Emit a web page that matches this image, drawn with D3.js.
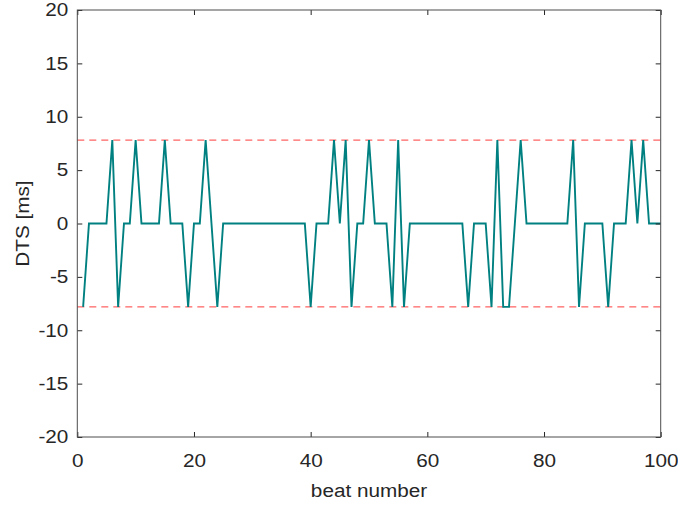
<!DOCTYPE html>
<html>
<head>
<meta charset="utf-8">
<script src="https://cdn.jsdelivr.net/npm/d3@7"></script>
<style>
  body { margin: 0; background: #fff; }
  #chart { width: 678px; height: 507px; }
  text { font-family: "Liberation Sans", Arial, sans-serif; fill: #262626; }
</style>
</head>
<body>
<div id="chart"></div>
<script>
// ||================================||
// || DATA                           ||
// ||================================||

// DTS per beat, beats 1..100 (ms)
var dts = [
  -7.8125, 0, 0, 0, 0, 7.8125, -7.8125, 0, 0, 7.8125,
  0, 0, 0, 0, 7.8125, 0, 0, 0, -7.8125, 0,
  0, 7.8125, 0, -7.8125, 0, 0, 0, 0, 0, 0,
  0, 0, 0, 0, 0, 0, 0, 0, 0, -7.8125,
  0, 0, 0, 7.8125, 0, 7.8125, -7.8125, 0, 0, 7.8125,
  0, 0, 0, -7.8125, 7.8125, -7.8125, 0, 0, 0, 0,
  0, 0, 0, 0, 0, 0, -7.8125, 0, 0, 0,
  -7.8125, 7.8125, -7.8125, -7.8125, 0, 7.8125, 0, 0, 0, 0,
  0, 0, 0, 0, 7.8125, -7.8125, 0, 0, 0, 0,
  -7.8125, 0, 0, 0, 7.8125, 0, 7.8125, 0, 0, 0
];

var thresholds = [7.8125, -7.8125];

var xTicks = [0, 20, 40, 60, 80, 100],
    yTicks = [-20, -15, -10, -5, 0, 5, 10, 15, 20];

// ||================================||
// || D3 GRAPH                       ||
// ||================================||

var width = 678,
    height = 507;

var margin = {top: 10, right: 17.3, bottom: 70, left: 77.3};

// the reference font is a bit wider than Liberation Sans
var stretch = 1.15;

var x = d3.scaleLinear().domain([0, 100]).range([margin.left, width - margin.right]);
var y = d3.scaleLinear().domain([-20, 20]).range([height - margin.bottom, margin.top]);

var svg = d3.select("#chart")
  .append("svg")
    .attr("width", width)
    .attr("height", height);

// thresholds
svg.append("g")
  .selectAll("line")
  .data(thresholds)
  .enter().append("line")
    .attr("x1", x(0))
    .attr("x2", x(100))
    .attr("y1", function(d) { return y(d); })
    .attr("y2", function(d) { return y(d); })
    .attr("stroke", "#ff3b3b")
    .attr("stroke-width", 1)
    .attr("stroke-dasharray", "7,5");

var line = d3.line()
    .x(function(d, i) { return x(i + 1); })
    .y(function(d) { return y(d); });

svg.append("path")
    .datum(dts)
    .attr("fill", "none")
    .attr("stroke", "#008080")
    .attr("stroke-width", 1.9)
    .attr("d", line);

function widen(sel) {
  sel.each(function() {
    var w = this.getComputedTextLength();
    d3.select(this)
      .attr("textLength", w * stretch)
      .attr("lengthAdjust", "spacingAndGlyphs");
  });
}

// axes (box with inward ticks)
function styleAxis(g) {
  g.select(".domain").remove();
  g.selectAll(".tick line").attr("stroke", "#262626");
  g.selectAll(".tick text")
    .attr("font-size", "18px")
    .attr("fill", "#262626")
    .style("font-family", "'Liberation Sans', Arial, sans-serif")
    .call(widen);
}

var fmt = function(d) { return String(d); };

svg.append("g")
    .attr("transform", "translate(0," + y(-20) + ")")
    .call(d3.axisBottom(x).tickValues(xTicks).tickFormat(fmt).tickSizeInner(-5).tickSizeOuter(0).tickPadding(17))
    .call(styleAxis);

svg.append("g")
    .attr("transform", "translate(0," + y(20) + ")")
    .call(d3.axisTop(x).tickValues(xTicks).tickSizeInner(-5).tickSizeOuter(0).tickFormat(""))
    .call(styleAxis);

svg.append("g")
    .attr("transform", "translate(" + x(0) + ",0)")
    .call(d3.axisLeft(y).tickValues(yTicks).tickFormat(fmt).tickSizeInner(-5).tickSizeOuter(0).tickPadding(9))
    .call(styleAxis);

svg.append("g")
    .attr("transform", "translate(" + x(100) + ",0)")
    .call(d3.axisRight(y).tickValues(yTicks).tickSizeInner(-5).tickSizeOuter(0).tickFormat(""))
    .call(styleAxis);

svg.append("rect")
    .attr("x", x(0))
    .attr("y", y(20))
    .attr("width", x(100) - x(0))
    .attr("height", y(-20) - y(20))
    .attr("fill", "none")
    .attr("stroke", "#4d4d4d")
    .attr("stroke-width", 1);

// labels
svg.append("text")
    .attr("x", (x(0) + x(100)) / 2)
    .attr("y", 496.7)
    .attr("text-anchor", "middle")
    .attr("font-size", "18px")
    .text("beat number")
    .call(widen);

svg.append("text")
    .attr("transform", "translate(28.5," + y(0) + ") rotate(-90)")
    .attr("text-anchor", "middle")
    .attr("font-size", "18px")
    .text("DTS [ms]")
    .call(widen);
</script>
</body>
</html>
